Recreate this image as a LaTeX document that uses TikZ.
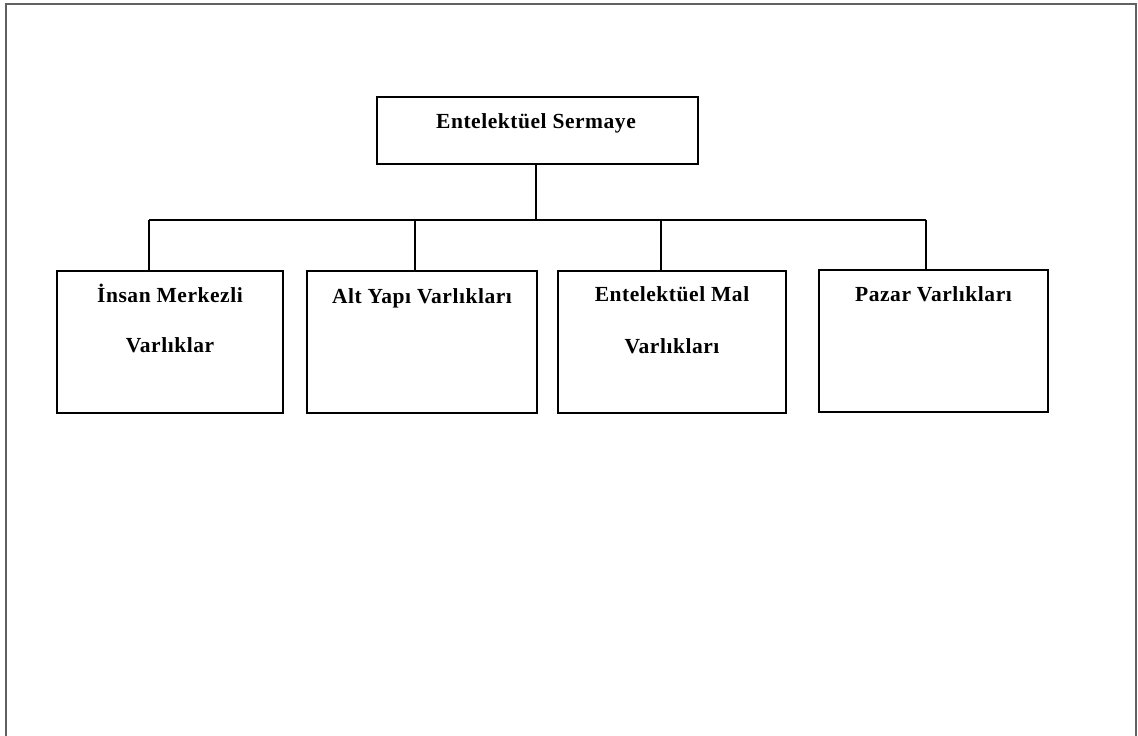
\documentclass[tikz,border=0pt]{standalone}
\usepackage{fontspec}
\setmainfont{Liberation Serif}
\newfontfamily\lblfont[LetterSpace=2.5]{Liberation Serif}
\begin{document}
\begin{tikzpicture}[x=1pt,y=-1pt,
  box/.style={draw=black,line width=1.5pt,rectangle,inner sep=0pt},
  lbl/.style={font=\lblfont\fontsize{21.5}{21.5}\selectfont\bfseries,inner sep=0pt,anchor=base},
  conn/.style={draw=black,line width=1.3pt}]
\useasboundingbox (0,0) rectangle (1138,736);
\draw[draw=black!62,line width=1.6pt] (6,736) -- (6,4) -- (1136,4) -- (1136,736);
% boxes
\node[box,minimum width=321pt,minimum height=67pt] (top) at (537.5,130.5) {};
\node[box,minimum width=226pt,minimum height=142pt] (b1) at (170,342) {};
\node[box,minimum width=230pt,minimum height=142pt] (b2) at (422,342) {};
\node[box,minimum width=228pt,minimum height=142pt] (b3) at (672,342) {};
\node[box,minimum width=229pt,minimum height=142pt] (b4) at (933.5,341) {};
% texts
\node[lbl] (t0) at (536,128) {Entelektüel Sermaye};
\node[lbl] (t1a) at (170,302) {İnsan Merkezli};
\node[lbl] (t1b) at (170,352) {Varlıklar};
\node[lbl] (t2) at (422,303) {Alt Yapı Varlıkları};
\node[lbl] (t3a) at (672,301) {Entelektüel Mal};
\node[lbl] (t3b) at (672,353) {Varlıkları};
\node[lbl] (t4) at (933.5,301) {Pazar Varlıkları};
% connectors
\coordinate (hub) at (536,220);
\draw[conn] (top.south -| hub) -- (hub);
\draw[conn] (149,220) -- (926,220);
\draw[conn] (b1.north -| 149,0) -- (149,220);
\draw[conn] (b2.north -| 415,0) -- (415,220);
\draw[conn] (b3.north -| 661,0) -- (661,220);
\draw[conn] (b4.north -| 926,0) -- (926,220);
\end{tikzpicture}
\end{document}
